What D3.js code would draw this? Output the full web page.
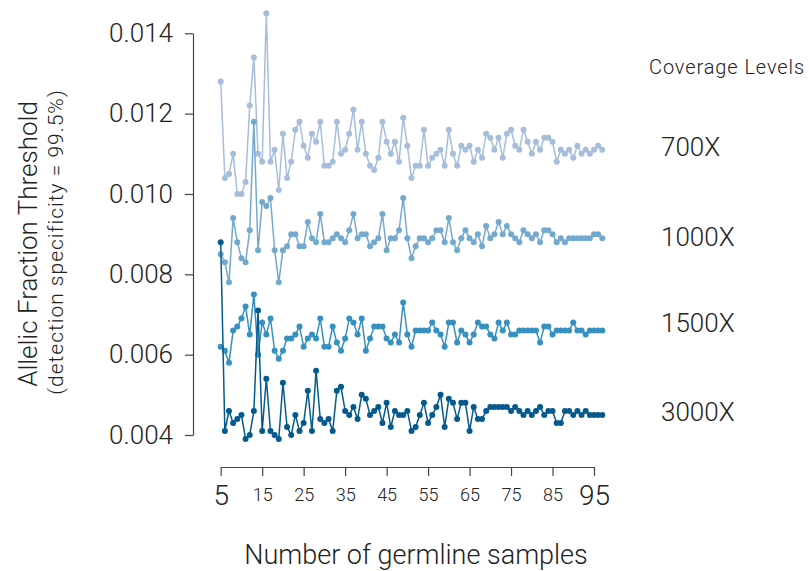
<!DOCTYPE html>
<html>
<head>
<meta charset="utf-8">
<script src="https://cdn.jsdelivr.net/npm/d3@7"></script>
<style>
  body { margin: 0; background: #fff; }
  svg text { font-family: Roboto, "Liberation Sans", sans-serif; font-weight: 300; fill: #222; }
</style>
</head>
<body>
<div id="chart"></div>
<script>
// number of germline samples (x categories)
var samples = [5,6,7,8,9,10,11,12,13,14,15,16,17,18,19,20,21,22,23,24,25,26,27,28,29,30,
  31,32,33,34,35,36,37,38,39,40,41,42,43,44,45,46,47,48,49,50,51,52,53,54,55,56,57,58,59,60,
  61,62,63,64,65,66,67,68,69,70,71,72,73,74,75,76,77,78,79,80,81,82,83,84,85,86,87,88,89,90,
  91,92,93,94,95,96,97];

var levels = ["700X", "1000X", "1500X", "3000X"];
var colors = ["#a6bddb", "#74a9cf", "#3690c0", "#045a8d"];

var cov700 = [0.0128,0.0104,0.0105,0.0110,0.0100,0.0100,0.0103,0.0122,0.0134,0.0110,0.0108,0.0145,
  0.0108,0.0111,0.0101,0.0115,0.0104,0.0108,0.0116,0.0118,0.0112,0.0109,0.0115,0.0113,0.0118,0.0107,
  0.0107,0.0108,0.0118,0.0110,0.0111,0.0115,0.0121,0.0111,0.0118,0.0110,0.0107,0.0106,0.0109,0.0118,
  0.0113,0.0110,0.0113,0.0108,0.0119,0.0112,0.0104,0.0107,0.0107,0.0116,0.0107,0.0109,0.0110,0.0111,
  0.0107,0.0116,0.0110,0.0107,0.0112,0.0111,0.0112,0.0108,0.0111,0.0109,0.0115,0.0114,0.0111,0.0114,
  0.0109,0.0115,0.0116,0.0112,0.0111,0.0116,0.0113,0.0110,0.0113,0.0111,0.0114,0.0114,0.0113,0.0108,
  0.0111,0.0110,0.0111,0.0109,0.0112,0.0110,0.0111,0.0110,0.0111,0.0112,0.0111];

var cov1000 = [0.0085,0.0083,0.0078,0.0094,0.0088,0.0084,0.0083,0.0091,0.0118,0.0086,0.0098,0.0097,
  0.0099,0.0086,0.0078,0.0086,0.0087,0.0090,0.0090,0.0087,0.0087,0.0093,0.0089,0.0088,0.0095,0.0088,
  0.0088,0.0089,0.0090,0.0089,0.0088,0.0091,0.0095,0.0089,0.0090,0.0090,0.0087,0.0088,0.0089,0.0095,
  0.0086,0.0089,0.0089,0.0091,0.0099,0.0089,0.0084,0.0087,0.0089,0.0089,0.0088,0.0089,0.0091,0.0091,
  0.0088,0.0094,0.0088,0.0086,0.0089,0.0091,0.0089,0.0088,0.0090,0.0087,0.0092,0.0089,0.0090,0.0093,
  0.0090,0.0092,0.0090,0.0089,0.0088,0.0091,0.0090,0.0089,0.0090,0.0088,0.0091,0.0091,0.0090,0.0088,
  0.0089,0.0088,0.0089,0.0089,0.0089,0.0089,0.0089,0.0089,0.0090,0.0090,0.0089];

var cov1500 = [0.0062,0.0061,0.0058,0.0066,0.0067,0.0069,0.0072,0.0065,0.0075,0.0060,0.0068,0.0065,
  0.0069,0.0061,0.0059,0.0061,0.0064,0.0064,0.0065,0.0067,0.0062,0.0064,0.0065,0.0064,0.0069,0.0062,
  0.0062,0.0067,0.0063,0.0061,0.0064,0.0069,0.0068,0.0065,0.0069,0.0061,0.0064,0.0067,0.0067,0.0067,
  0.0064,0.0063,0.0065,0.0063,0.0073,0.0065,0.0062,0.0066,0.0066,0.0066,0.0066,0.0068,0.0066,0.0065,
  0.0062,0.0068,0.0068,0.0063,0.0066,0.0065,0.0063,0.0065,0.0068,0.0067,0.0067,0.0065,0.0064,0.0068,
  0.0066,0.0068,0.0065,0.0065,0.0066,0.0066,0.0066,0.0066,0.0066,0.0063,0.0067,0.0067,0.0065,0.0066,
  0.0066,0.0066,0.0066,0.0068,0.0066,0.0066,0.0065,0.0066,0.0066,0.0066,0.0066];

var cov3000 = [0.0088,0.0041,0.0046,0.0043,0.0044,0.0045,0.0039,0.0040,0.0046,0.0071,0.0041,0.0054,
  0.0041,0.0040,0.0039,0.0053,0.0042,0.0040,0.0045,0.0041,0.0043,0.0051,0.0041,0.0056,0.0044,0.0043,
  0.0044,0.0041,0.0051,0.0052,0.0046,0.0045,0.0047,0.0044,0.0050,0.0049,0.0045,0.0046,0.0047,0.0043,
  0.0048,0.0042,0.0046,0.0045,0.0045,0.0046,0.0041,0.0042,0.0045,0.0048,0.0043,0.0045,0.0047,0.0050,
  0.0042,0.0049,0.0048,0.0044,0.0048,0.0048,0.0041,0.0047,0.0044,0.0044,0.0046,0.0047,0.0047,0.0047,
  0.0047,0.0047,0.0046,0.0047,0.0046,0.0045,0.0046,0.0045,0.0046,0.0047,0.0045,0.0046,0.0046,0.0043,
  0.0043,0.0046,0.0046,0.0045,0.0046,0.0045,0.0046,0.0045,0.0045,0.0045,0.0045];

var xTicks = [5,15,25,35,45,55,65,75,85,95];
var yTicks = [0.004,0.006,0.008,0.010,0.012,0.014];

var series = [cov700, cov1000, cov1500, cov3000];

var width = 809, height = 571;

var svg = d3.select("#chart")
  .append("svg")
  .attr("width", width)
  .attr("height", height);

var x = d3.scaleLinear().domain([5, 95]).range([220.7, 594]);
var y = d3.scaleLinear().domain([0.004, 0.014]).range([435, 33.3]);

// Y axis
var yAxis = svg.append("g")
  .attr("transform", "translate(193,0)")
  .call(d3.axisLeft(y).tickValues(yTicks).tickFormat(d3.format(".3f")).tickSize(8).tickSizeOuter(0).tickPadding(12));
yAxis.selectAll("line, path").attr("stroke", "#444").attr("stroke-width", 1.2);
yAxis.selectAll("text").style("font-size", "26px").attr("fill", "#222");

// X axis
var xAxis = svg.append("g")
  .attr("transform", "translate(0,467)")
  .call(d3.axisBottom(x).tickValues(xTicks).tickSize(9).tickSizeOuter(0).tickPadding(6));
xAxis.selectAll("line, path").attr("stroke", "#444").attr("stroke-width", 1.2);
xAxis.selectAll("text")
  .style("font-size", function(d) { return (d == 5 || d == 95) ? "28px" : "18px"; })
  .attr("dy", function(d) { return (d == 5 || d == 95) ? "0.82em" : "1.08em"; })
  .attr("fill", "#222");

// lines and dots
var line = d3.line()
  .x(function(d, i) { return x(samples[i]); })
  .y(function(d) { return y(d); });

series.forEach(function(vals, k) {
  var g = svg.append("g");
  g.append("path")
    .datum(vals)
    .attr("d", line)
    .attr("fill", "none")
    .attr("stroke", colors[k])
    .attr("stroke-width", 1.5);
  g.selectAll("circle")
    .data(vals)
    .enter()
    .append("circle")
    .attr("cx", function(d, i) { return x(samples[i]); })
    .attr("cy", function(d) { return y(d); })
    .attr("r", 3)
    .attr("fill", colors[k]);
});

// Axis titles
svg.append("text")
  .attr("text-anchor", "middle")
  .attr("transform", "translate(37,244)rotate(-90)")
  .style("font-size", "26px")
  .text("Allelic Fraction Threshold");

svg.append("text")
  .attr("text-anchor", "middle")
  .attr("transform", "translate(63,242)rotate(-90)")
  .style("font-size", "21px")
  .style("letter-spacing", "1px")
  .text("(detection specificity = 99.5%)");

svg.append("text")
  .attr("text-anchor", "middle")
  .attr("x", 416)
  .attr("y", 564)
  .style("font-size", "27px")
  .text("Number of germline samples");

// Legend
svg.append("text")
  .attr("x", 649)
  .attr("y", 74)
  .style("font-size", "20px")
  .style("letter-spacing", "0.9px")
  .text("Coverage Levels");

var legendY = [156, 246, 332, 421];
levels.forEach(function(l, k) {
  svg.append("text")
    .attr("x", 661)
    .attr("y", legendY[k])
    .style("font-size", "26px")
    .text(l);
});
</script>
</body>
</html>
